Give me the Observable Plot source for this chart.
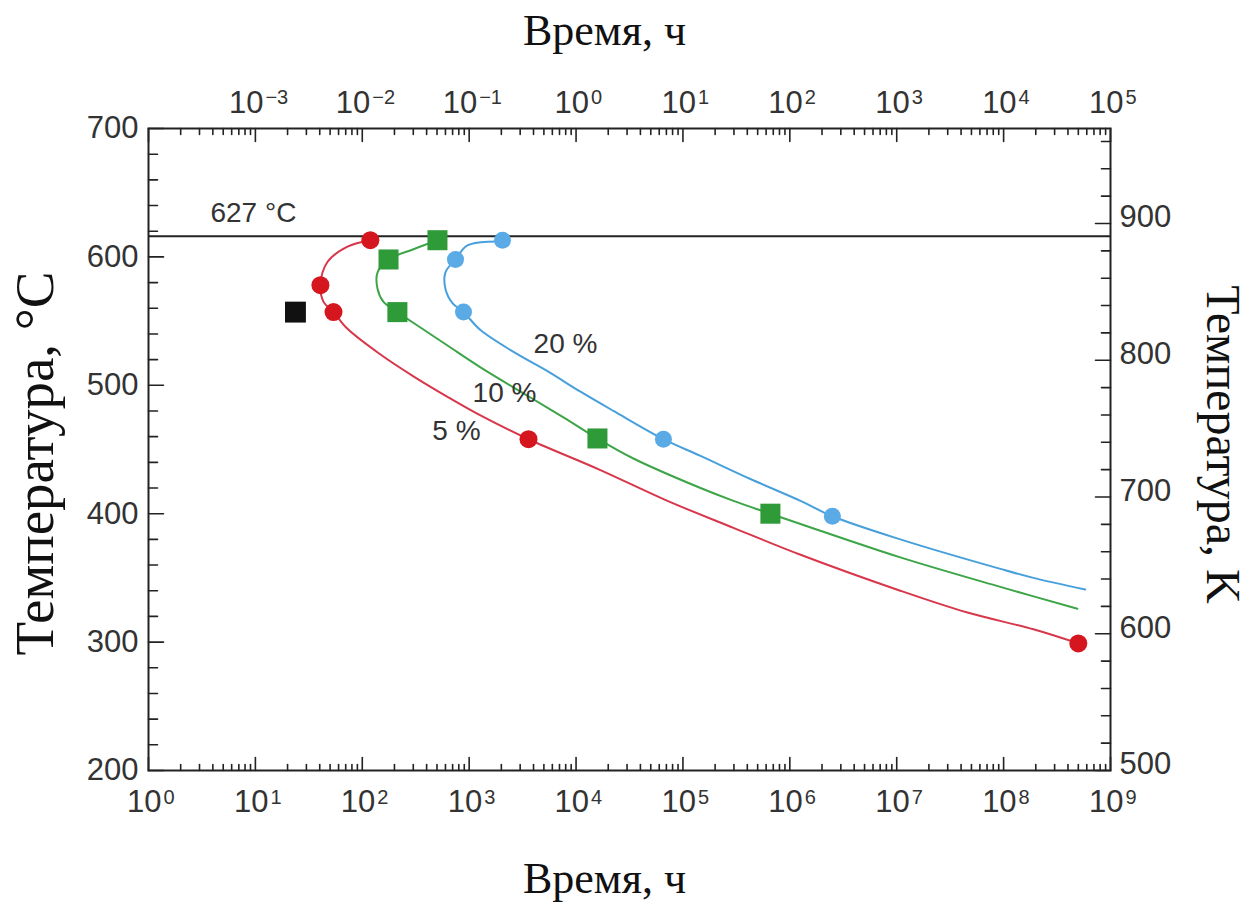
<!DOCTYPE html>
<html>
<head>
<meta charset="utf-8">
<script src="https://cdn.jsdelivr.net/npm/d3@7"></script>
<script src="https://cdn.jsdelivr.net/npm/@observablehq/plot@0.6"></script>
<style>
  html, body { margin: 0; padding: 0; background: #fff; }
  #chart svg { display: block; }
</style>
</head>
<body>
<div id="chart"></div>
<script>
// ---------- texts ----------
const titleTop = "Время, ч";
const titleBottom = "Время, ч";
const titleLeft = "Температура, °C";
const titleRight = "Температура, K";
const lineLabel = "627 °C";

// ---------- axis values ----------
const bottomExp = [0, 1, 2, 3, 4, 5, 6, 7, 8, 9];
const topExp = [-3, -2, -1, 0, 1, 2, 3, 4, 5];
const topShift = 4;                        // top decade e sits over bottom decade e+4
const leftMajor = [200, 300, 400, 500, 600, 700];
const rightMajorK = [500, 600, 700, 800, 900];
const kelvinAtBottom = 500;                // right axis: 500 K at the 200 °C baseline
const kelvinStretch = 1.065;               // °C-units per K on the right axis

// ---------- reference line ----------
const refLineTemp = [616];

// ---------- 5 % (red) ----------
const redLineTime = [119, 72.7, 47.2, 40.6, 43.4, 53.8, 72.7, 148, 301, 627, 1276, 3590, 16900, 71600, 297000, 1.26e6, 1.08e7, 4.59e7, 1.9e8, 5.0e8];
const redLineTemp = [613, 608, 596, 578, 565, 557, 544, 524, 507, 491, 476.5, 458, 434, 410, 389, 368, 340, 323, 310, 299];
const redPtTime = [119, 40.6, 53.8, 3590, 5.0e8];
const redPtTemp = [613, 578, 557, 458, 299];

// ---------- 10 % (green) ----------
const greenLineTime = [505, 301, 176, 139, 139, 158, 213, 350, 627, 1276, 3740, 7620, 15850, 34400, 146000, 297000, 658000, 1.26e6, 1.08e7, 9.33e7, 4.9e8];
const greenLineTemp = [613, 606, 598, 588, 575, 565, 557, 545, 531, 514, 490.5, 475, 458.6, 443, 420, 410, 400, 392, 366, 343, 326];
const greenPtTime = [505, 176, 213, 15850, 658000];
const greenPtTemp = [613, 598, 557, 458.6, 400];

// ---------- 20 % (blue) ----------
const blueLineTime = [2050, 964, 745, 600, 600, 698, 885, 1276, 2600, 5400, 11000, 22400, 65700, 146000, 428000, 1.26e6, 2.5e6, 1.08e7, 9.33e7, 1.9e8, 5.8e8];
const blueLineTemp = [612, 609, 598, 588, 575, 564, 557, 543, 526, 511, 495, 480, 458, 445, 427, 410, 398, 380, 357, 350, 341];
const bluePtTime = [2050, 745, 885, 65700, 2.5e6];
const bluePtTemp = [613, 598, 557, 458, 398];

// ---------- black square ----------
const blackTime = [23.7];
const blackTemp = [557];

// ---------- curve labels ----------
const curveLabels = ["20 %", "10 %", "5 %"];
const curveLabelTime = [7960, 2140, 760];
const curveLabelTemp = [532, 494, 464];

// ---------- colours ----------
const cRedLine = "#d8374b", cRedPt = "#d5161f";
const cGreenLine = "#3da548", cGreenPt = "#2f9a38";
const cBlueLine = "#47a0dc", cBluePt = "#5aaae6";
const ink = "#222", textInk = "#333";

// ---------- build tables ----------
const zip = (t, c) => t.map((v, i) => ({t: v, c: c[i]}));
const redLine = zip(redLineTime, redLineTemp), redPts = zip(redPtTime, redPtTemp);
const greenLine = zip(greenLineTime, greenLineTemp), greenPts = zip(greenPtTime, greenPtTemp);
const blueLine = zip(blueLineTime, blueLineTemp), bluePts = zip(bluePtTime, bluePtTemp);
const blackPts = zip(blackTime, blackTemp);
const labels = curveLabels.map((s, i) => ({s, t: curveLabelTime[i], c: curveLabelTemp[i]}));

const decadeMajor = bottomExp.map(e => 10 ** e);
const decadeMinor = [];
for (const e of bottomExp.slice(0, -1)) for (let m = 2; m <= 9; m++) decadeMinor.push(m * 10 ** e);
const leftMinor = d3.range(200, 701, 20).filter(v => !leftMajor.includes(v));
const kToC = k => 200 + (k - kelvinAtBottom) * kelvinStretch;
const kMax = kelvinAtBottom + 500 / kelvinStretch;
const rightMinorK = d3.range(500, kMax, 20).filter(k => !rightMajorK.includes(k));
const expText = e => (e < 0 ? "\u2212" + (-e) : String(e));

const tickShape = {draw(ctx, l) { ctx.moveTo(0, 0); ctx.lineTo(0, -l); }};
const sans = "'Liberation Sans', Arial, Helvetica, sans-serif";
const serif = "'Liberation Serif', 'Times New Roman', serif";

const tick = (data, opts) => Plot.vector(data, {anchor: "start", shape: tickShape, stroke: ink, strokeWidth: 1.6, ...opts});

const W = 1257, H = 907;
const chart = Plot.plot({
  width: W, height: H,
  marginLeft: 148, marginRight: 147, marginTop: 128, marginBottom: 137,
  x: {type: "log", domain: [1, 1e9], axis: null},
  y: {type: "linear", domain: [200, 700], axis: null},
  style: {background: "#fff", fontFamily: sans},
  marks: [
    // reference line
    Plot.ruleY(refLineTemp, {stroke: ink, strokeWidth: 2}),
    Plot.text(refLineTemp, {x: 3.8, y: () => 627, text: () => lineLabel, textAnchor: "start", lineAnchor: "bottom", fontSize: 28, fill: textInk, fontFamily: sans}),

    // ticks bottom / top
    tick(decadeMajor, {x: d => d, frameAnchor: "bottom", rotate: 0, length: 13}),
    tick(decadeMinor, {x: d => d, frameAnchor: "bottom", rotate: 0, length: 6}),
    tick(decadeMajor, {x: d => d, frameAnchor: "top", rotate: 180, length: 13}),
    tick(decadeMinor, {x: d => d, frameAnchor: "top", rotate: 180, length: 6}),
    // ticks left / right
    tick(leftMajor, {y: d => d, frameAnchor: "left", rotate: 90, length: 15}),
    tick(leftMinor, {y: d => d, frameAnchor: "left", rotate: 90, length: 9}),
    tick(rightMajorK, {y: k => kToC(k), frameAnchor: "right", rotate: -90, length: 15}),
    tick(rightMinorK, {y: k => kToC(k), frameAnchor: "right", rotate: -90, length: 9}),

    // bottom labels
    Plot.text(bottomExp, {x: e => 10 ** e, text: () => "10", frameAnchor: "bottom", dy: 41, dx: 13, textAnchor: "end", lineAnchor: "bottom", fontSize: 31, fill: textInk, fontFamily: sans}),
    Plot.text(bottomExp, {x: e => 10 ** e, text: e => expText(e), frameAnchor: "bottom", dy: 33, dx: 15, textAnchor: "start", lineAnchor: "bottom", fontSize: 20, fill: textInk, fontFamily: sans}),
    // top labels
    Plot.text(topExp.filter(e => e < 0), {x: e => 10 ** (e + topShift), text: () => "10", frameAnchor: "top", dy: -16, dx: 8, textAnchor: "end", lineAnchor: "bottom", fontSize: 31, fill: textInk, fontFamily: sans}),
    Plot.text(topExp.filter(e => e < 0), {x: e => 10 ** (e + topShift), text: e => expText(e), frameAnchor: "top", dy: -25, dx: 10, textAnchor: "start", lineAnchor: "bottom", fontSize: 20, fill: textInk, fontFamily: sans}),
    Plot.text(topExp.filter(e => e >= 0), {x: e => 10 ** (e + topShift), text: () => "10", frameAnchor: "top", dy: -16, dx: 13, textAnchor: "end", lineAnchor: "bottom", fontSize: 31, fill: textInk, fontFamily: sans}),
    Plot.text(topExp.filter(e => e >= 0), {x: e => 10 ** (e + topShift), text: e => expText(e), frameAnchor: "top", dy: -25, dx: 15, textAnchor: "start", lineAnchor: "bottom", fontSize: 20, fill: textInk, fontFamily: sans}),
    // left / right labels
    Plot.text(leftMajor, {y: d => d, text: d => String(d), frameAnchor: "left", dx: -10, textAnchor: "end", lineAnchor: "middle", fontSize: 31, fill: textInk, fontFamily: sans}),
    Plot.text(rightMajorK, {y: k => kToC(k), text: k => String(k), frameAnchor: "right", dx: 9, dy: -6, textAnchor: "start", lineAnchor: "middle", fontSize: 31, fill: textInk, fontFamily: sans}),

    // axis titles
    Plot.text([titleTop], {text: d => d, frameAnchor: "top", textAnchor: "middle", dx: -25, dy: -84, lineAnchor: "bottom", fontSize: 44, fill: "#111", fontFamily: serif}),
    Plot.text([titleBottom], {text: d => d, frameAnchor: "bottom", textAnchor: "middle", dx: -25, dy: 122, lineAnchor: "bottom", fontSize: 44, fill: "#111", fontFamily: serif}),
    Plot.text([titleLeft], {text: d => d, frameAnchor: "left", textAnchor: "middle", dx: -113, dy: 14, rotate: -90, lineAnchor: "middle", fontSize: 55, fill: "#111", fontFamily: serif}),
    Plot.text([titleRight], {text: d => d, frameAnchor: "right", textAnchor: "middle", dx: 112, dy: -5, rotate: 90, lineAnchor: "middle", fontSize: 48, fill: "#111", fontFamily: serif}),

    // curves
    Plot.line(redLine, {x: "t", y: "c", stroke: cRedLine, strokeWidth: 2, curve: "catmull-rom"}),
    Plot.line(greenLine, {x: "t", y: "c", stroke: cGreenLine, strokeWidth: 2, curve: "catmull-rom"}),
    Plot.line(blueLine, {x: "t", y: "c", stroke: cBlueLine, strokeWidth: 2, curve: "catmull-rom"}),

    // markers
    Plot.dot(redPts, {x: "t", y: "c", r: 9, fill: cRedPt, symbol: "circle"}),
    Plot.dot(greenPts, {x: "t", y: "c", r: 11.3, fill: cGreenPt, symbol: "square"}),
    Plot.dot(bluePts, {x: "t", y: "c", r: 8.5, fill: cBluePt, symbol: "circle"}),
    Plot.dot(blackPts, {x: "t", y: "c", r: 11.8, fill: "#111", symbol: "square"}),

    // curve labels
    Plot.text(labels, {x: "t", y: "c", text: "s", fontSize: 28, fill: textInk, fontFamily: sans, lineAnchor: "middle"}),

    Plot.frame({stroke: ink, strokeWidth: 2})
  ]
});
document.getElementById("chart").appendChild(chart);
</script>
</body>
</html>
